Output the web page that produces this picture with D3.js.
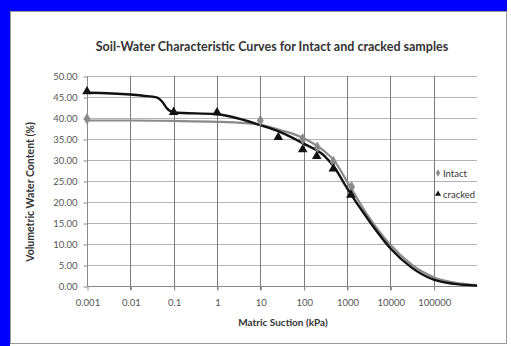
<!DOCTYPE html>
<meta charset="utf-8">
<style>
body { margin: 0; background: #fff; }
text { font-family: Lato, "Open Sans", sans-serif; }
.tick-label { font-size: 9.5px; fill: #555; }
</style>
<body></body>
<script src="https://d3js.org/d3.v7.min.js"></script>
<script>
// observed points
var intactSuction = [0.001, 10, 95, 207, 484, 1280];
var intactWater = [39.8, 39.4, 35.0, 33.0, 29.6, 23.6];
var crackedSuction = [0.001, 0.1, 1, 26, 95, 200, 484, 1230];
var crackedWater = [46.3, 41.4, 41.3, 35.4, 32.5, 30.9, 27.9, 21.7];

// fitted curves
var intactCurveSuction = [0.001, 0.01, 0.1, 1, 3, 10, 30, 100, 300, 500, 1000, 3000, 10000, 30000, 100000, 300000, 1000000];
var intactCurveWater = [39.4, 39.4, 39.3, 39.1, 38.9, 38.4, 37.1, 35.2, 32.1, 29.9, 24.9, 16.8, 9.8, 5.2, 2.1, 0.8, 0.2];
var crackedCurveSuction = [0.001, 0.01, 0.02, 0.04, 0.055, 0.07, 0.085, 0.1, 1, 10, 30, 100, 300, 500, 1000, 3000, 10000, 30000, 100000, 300000, 1000000];
var crackedCurveWater = [46.0, 45.6, 45.3, 44.9, 43.8, 42.3, 41.6, 41.3, 40.9, 38.3, 36.6, 33.9, 31.0, 28.4, 23.3, 16.0, 9.0, 4.5, 1.5, 0.5, 0.1];

var xTicks = [0.001, 0.01, 0.1, 1, 10, 100, 1000, 10000, 100000];
var xTickLabels = ["0.001", "0.01", "0.1", "1", "10", "100", "1000", "10000", "100000"];
var yTicks = [0, 5, 10, 15, 20, 25, 30, 35, 40, 45, 50];

var W = 511, H = 346;
var plot = {left: 87, right: 477, top: 76, bottom: 286};

var svg = d3.select("body").append("svg")
    .attr("width", W).attr("height", H);

// blue frame + chart panel
svg.append("rect").attr("x", 0).attr("y", 0).attr("width", 10).attr("height", H).attr("fill", "#0000ff");
svg.append("rect").attr("x", 0).attr("y", 0).attr("width", 507).attr("height", 11).attr("fill", "#0000ff");
svg.append("rect").attr("x", 10.5).attr("y", 11.5).attr("width", 496).attr("height", 332)
    .attr("fill", "#fff").attr("stroke", "#999");

var x = d3.scaleLog().domain([0.001, 1000000]).range([plot.left, plot.right]);
var y = d3.scaleLinear().domain([0, 50]).range([plot.bottom, plot.top]);

// horizontal gridlines
svg.append("g").selectAll("line").data(yTicks.slice(1)).enter().append("line")
    .attr("x1", plot.left).attr("x2", plot.right)
    .attr("y1", function(d) { return Math.round(y(d)) + 0.5; })
    .attr("y2", function(d) { return Math.round(y(d)) + 0.5; })
    .attr("stroke", "#b4b4b4");

// vertical gridlines
svg.append("g").selectAll("line").data(xTicks.slice(1)).enter().append("line")
    .attr("x1", function(d) { return Math.round(x(d)) + 0.5; })
    .attr("x2", function(d) { return Math.round(x(d)) + 0.5; })
    .attr("y1", plot.top).attr("y2", plot.bottom + 4)
    .attr("stroke", "#7a7a7a");

// axes
var yAxis = svg.append("g")
    .attr("transform", "translate(" + (plot.left + 0.5) + ",0.5)")
    .call(d3.axisLeft(y).tickValues(yTicks).tickSize(4).tickPadding(6)
        .tickFormat(d3.format(".2f")));
var xAxis = svg.append("g")
    .attr("transform", "translate(0.5," + (plot.bottom + 0.5) + ")")
    .call(d3.axisBottom(x).tickValues(xTicks).tickSize(4).tickPadding(9)
        .tickFormat(function(d, i) { return xTickLabels[i]; }));
[yAxis, xAxis].forEach(function(a) {
    a.select(".domain").attr("stroke", "#8a8a8a");
    a.selectAll(".tick line").attr("stroke", "#8a8a8a");
    a.selectAll(".tick text").attr("class", "tick-label").style("font-family", "Lato, sans-serif");
});
yAxis.select(".domain").attr("d", "M0," + plot.bottom + "V" + plot.top);
xAxis.select(".domain").attr("d", "M" + plot.left + ",0H" + plot.right);

// curves
var line = d3.line()
    .x(function(d) { return x(d[0]); })
    .y(function(d) { return y(d[1]); })
    .curve(d3.curveMonotoneX);

svg.append("path")
    .datum(d3.zip(intactCurveSuction, intactCurveWater))
    .attr("d", line).attr("fill", "none")
    .attr("stroke", "#8a8a8a").attr("stroke-width", 2.2);
svg.append("path")
    .datum(d3.zip(crackedCurveSuction, crackedCurveWater))
    .attr("d", line).attr("fill", "none")
    .attr("stroke", "#111").attr("stroke-width", 2.4);

// markers
var diamond = d3.symbol().type(d3.symbolDiamond).size(40);
var triangle = d3.symbol().type(d3.symbolTriangle).size(40);

svg.append("g").selectAll("path").data(d3.zip(intactSuction, intactWater)).enter().append("path")
    .attr("d", diamond)
    .attr("transform", function(d) { return "translate(" + x(d[0]) + "," + y(d[1]) + ")"; })
    .attr("fill", "#8a8a8a");
svg.append("g").selectAll("path").data(d3.zip(crackedSuction, crackedWater)).enter().append("path")
    .attr("d", triangle)
    .attr("transform", function(d) { return "translate(" + x(d[0]) + "," + y(d[1]) + ")"; })
    .attr("fill", "#111");

// legend
var legend = [["Intact", d3.symbolDiamond, "#8a8a8a"], ["cracked", d3.symbolTriangle, "#111"]];
var lg = svg.selectAll(".lg").data(legend).enter().append("g")
    .attr("transform", function(d, i) { return "translate(438," + (173 + i * 21) + ")"; });
lg.append("path").attr("d", function(d) { return d3.symbol().type(d[1]).size(16)(); })
    .attr("fill", function(d) { return d[2]; });
lg.append("text").attr("x", 5).attr("y", 3.5)
    .style("font-size", "9.5px").attr("fill", "#333")
    .text(function(d) { return d[0]; });

// titles
svg.append("text").attr("x", 272).attr("y", 51)
    .attr("text-anchor", "middle").style("font-size", "12.5px").style("font-weight", "bold")
    .attr("fill", "#333")
    .text("Soil-Water Characteristic Curves for Intact and cracked samples");
svg.append("text").attr("x", 283).attr("y", 326)
    .attr("text-anchor", "middle").style("font-size", "10px").style("font-weight", "bold")
    .attr("fill", "#333")
    .text("Matric Suction (kPa)");
svg.append("text").attr("transform", "translate(34,192) rotate(-90)")
    .attr("text-anchor", "middle").style("font-size", "10.5px").style("font-weight", "bold")
    .attr("fill", "#333")
    .text("Volumetric Water Content (%)");
</script>
